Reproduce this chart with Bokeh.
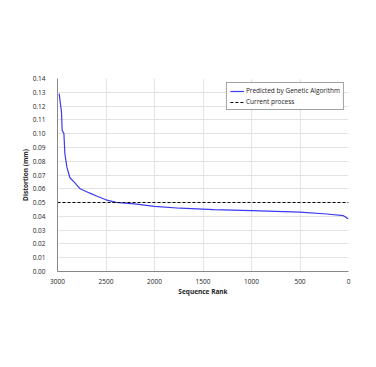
from bokeh.plotting import figure
from bokeh.models import Range1d, FixedTicker, NumeralTickFormatter, Legend, LegendItem
from bokeh.embed import file_html
from bokeh.resources import INLINE

# Data
rank = [2983, 2959, 2952, 2934, 2924, 2903, 2872, 2828, 2766, 2672, 2586, 2500,
        2397, 2207, 2000, 1734, 1390, 1000, 500, 224, 52, 0]
distortion = [0.129, 0.1158, 0.1024, 0.100, 0.0854, 0.0757, 0.068, 0.0648, 0.060,
              0.057, 0.0544, 0.052, 0.0502, 0.049, 0.0473, 0.0459, 0.0449, 0.0442,
              0.043, 0.0417, 0.0405, 0.038]
current_rank = [3000, 0]
current_value = [0.05, 0.05]
x_ticks = [3000, 2500, 2000, 1500, 1000, 500, 0]
y_ticks = [0.00, 0.01, 0.02, 0.03, 0.04, 0.05, 0.06, 0.07, 0.08, 0.09, 0.10, 0.11, 0.12, 0.13, 0.14]

FONT = "Open Sans"

p = figure(width=368, height=359, output_backend="svg", toolbar_location=None,
           x_range=Range1d(3000, 0), y_range=Range1d(0, 0.14),
           min_border_left=57, min_border_right=20, min_border_top=78, min_border_bottom=88)
p.outline_line_color = None

gl = p.line(rank, distortion, line_color="#3b3bf0", line_width=1.2)
cl = p.line(current_rank, current_value, line_color="black", line_width=1.1, line_dash="3 2")

p.xaxis.ticker = FixedTicker(ticks=x_ticks)
p.yaxis.ticker = FixedTicker(ticks=y_ticks)
p.yaxis.formatter = NumeralTickFormatter(format="0.00")
p.xaxis.axis_label = "Sequence Rank"
p.yaxis.axis_label = "Distortion (mm)"
for ax in (p.xaxis, p.yaxis):
    ax.major_tick_line_color = None
    ax.minor_tick_line_color = None
    ax.axis_line_color = "#888888"
    ax.major_label_text_font = FONT
    ax.major_label_text_font_size = "6.5px"
    ax.major_label_text_color = "#222222"
    ax.axis_label_text_font = FONT
    ax.axis_label_text_font_size = "6.5px"
    ax.axis_label_text_font_style = "bold"
    ax.axis_label_text_color = "#222222"
p.xaxis.axis_label_standoff = 0
p.yaxis.axis_label_standoff = 0
p.xaxis.major_label_standoff = 1
p.yaxis.major_label_standoff = 6

p.xgrid.grid_line_color = "#e3e3e3"
p.ygrid.grid_line_color = "#e3e3e3"

legend = Legend(items=[LegendItem(label="Predicted by Genetic Algorithm", renderers=[gl]),
                       LegendItem(label="Current process", renderers=[cl])],
                location="top_right")
legend.label_text_font = FONT
legend.label_text_font_size = "6.5px"
legend.label_text_color = "#222222"
legend.border_line_color = "#444444"
legend.border_line_width = 1
legend.glyph_width = 14
legend.glyph_height = 8
legend.label_height = 8
legend.spacing = 2
legend.padding = 3
legend.margin = 4
legend.label_standoff = 2
p.add_layout(legend)

open("out.html", "w").write(file_html(p, INLINE))
